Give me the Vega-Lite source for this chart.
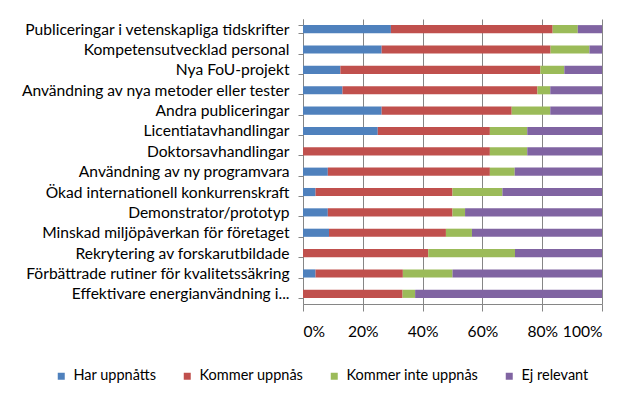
{
  "$schema": "https://vega.github.io/schema/vega-lite/v6.json",
  "width": 299,
  "height": 285,
  "autosize": "none",
  "padding": {"left": 303, "top": 19, "right": 38, "bottom": 99},
  "background": "white",
  "config": {
    "view": {"stroke": null},
    "font": "Lato",
    "axis": {"labelFont": "Lato", "labelFontSize": 15.6, "labelColor": "#000000", "domainColor": "#868686", "tickColor": "#868686"}
  },
  "datasets": {
    "serier": [
      {"serie": "Har uppnåtts", "nr": 1},
      {"serie": "Kommer uppnås", "nr": 2},
      {"serie": "Kommer inte uppnås", "nr": 3},
      {"serie": "Ej relevant", "nr": 4}
    ]
  },
  "data": {
    "values": [
      {"kategori": "Publiceringar i vetenskapliga tidskrifter", "serie": "Har uppnåtts", "andel": 29.4},
      {"kategori": "Publiceringar i vetenskapliga tidskrifter", "serie": "Kommer uppnås", "andel": 54.1},
      {"kategori": "Publiceringar i vetenskapliga tidskrifter", "serie": "Kommer inte uppnås", "andel": 8.4},
      {"kategori": "Publiceringar i vetenskapliga tidskrifter", "serie": "Ej relevant", "andel": 8.1},
      {"kategori": "Kompetensutvecklad personal", "serie": "Har uppnåtts", "andel": 26.3},
      {"kategori": "Kompetensutvecklad personal", "serie": "Kommer uppnås", "andel": 56.5},
      {"kategori": "Kompetensutvecklad personal", "serie": "Kommer inte uppnås", "andel": 13.0},
      {"kategori": "Kompetensutvecklad personal", "serie": "Ej relevant", "andel": 4.2},
      {"kategori": "Nya FoU-projekt", "serie": "Har uppnåtts", "andel": 12.5},
      {"kategori": "Nya FoU-projekt", "serie": "Kommer uppnås", "andel": 66.9},
      {"kategori": "Nya FoU-projekt", "serie": "Kommer inte uppnås", "andel": 8.0},
      {"kategori": "Nya FoU-projekt", "serie": "Ej relevant", "andel": 12.6},
      {"kategori": "Användning av nya metoder eller tester", "serie": "Har uppnåtts", "andel": 13.2},
      {"kategori": "Användning av nya metoder eller tester", "serie": "Kommer uppnås", "andel": 65.2},
      {"kategori": "Användning av nya metoder eller tester", "serie": "Kommer inte uppnås", "andel": 4.3},
      {"kategori": "Användning av nya metoder eller tester", "serie": "Ej relevant", "andel": 17.3},
      {"kategori": "Andra publiceringar", "serie": "Har uppnåtts", "andel": 26.3},
      {"kategori": "Andra publiceringar", "serie": "Kommer uppnås", "andel": 43.5},
      {"kategori": "Andra publiceringar", "serie": "Kommer inte uppnås", "andel": 12.9},
      {"kategori": "Andra publiceringar", "serie": "Ej relevant", "andel": 17.3},
      {"kategori": "Licentiatavhandlingar", "serie": "Har uppnåtts", "andel": 25.0},
      {"kategori": "Licentiatavhandlingar", "serie": "Kommer uppnås", "andel": 37.5},
      {"kategori": "Licentiatavhandlingar", "serie": "Kommer inte uppnås", "andel": 12.5},
      {"kategori": "Licentiatavhandlingar", "serie": "Ej relevant", "andel": 25.0},
      {"kategori": "Doktorsavhandlingar", "serie": "Har uppnåtts", "andel": 0},
      {"kategori": "Doktorsavhandlingar", "serie": "Kommer uppnås", "andel": 62.5},
      {"kategori": "Doktorsavhandlingar", "serie": "Kommer inte uppnås", "andel": 12.5},
      {"kategori": "Doktorsavhandlingar", "serie": "Ej relevant", "andel": 25.0},
      {"kategori": "Användning av ny programvara", "serie": "Har uppnåtts", "andel": 8.3},
      {"kategori": "Användning av ny programvara", "serie": "Kommer uppnås", "andel": 54.2},
      {"kategori": "Användning av ny programvara", "serie": "Kommer inte uppnås", "andel": 8.3},
      {"kategori": "Användning av ny programvara", "serie": "Ej relevant", "andel": 29.2},
      {"kategori": "Ökad internationell konkurrenskraft", "serie": "Har uppnåtts", "andel": 4.2},
      {"kategori": "Ökad internationell konkurrenskraft", "serie": "Kommer uppnås", "andel": 45.8},
      {"kategori": "Ökad internationell konkurrenskraft", "serie": "Kommer inte uppnås", "andel": 16.7},
      {"kategori": "Ökad internationell konkurrenskraft", "serie": "Ej relevant", "andel": 33.3},
      {"kategori": "Demonstrator/prototyp", "serie": "Har uppnåtts", "andel": 8.3},
      {"kategori": "Demonstrator/prototyp", "serie": "Kommer uppnås", "andel": 41.7},
      {"kategori": "Demonstrator/prototyp", "serie": "Kommer inte uppnås", "andel": 4.2},
      {"kategori": "Demonstrator/prototyp", "serie": "Ej relevant", "andel": 45.8},
      {"kategori": "Minskad miljöpåverkan för företaget", "serie": "Har uppnåtts", "andel": 8.7},
      {"kategori": "Minskad miljöpåverkan för företaget", "serie": "Kommer uppnås", "andel": 39.1},
      {"kategori": "Minskad miljöpåverkan för företaget", "serie": "Kommer inte uppnås", "andel": 8.7},
      {"kategori": "Minskad miljöpåverkan för företaget", "serie": "Ej relevant", "andel": 43.5},
      {"kategori": "Rekrytering av forskarutbildade", "serie": "Har uppnåtts", "andel": 0},
      {"kategori": "Rekrytering av forskarutbildade", "serie": "Kommer uppnås", "andel": 41.9},
      {"kategori": "Rekrytering av forskarutbildade", "serie": "Kommer inte uppnås", "andel": 29.0},
      {"kategori": "Rekrytering av forskarutbildade", "serie": "Ej relevant", "andel": 29.1},
      {"kategori": "Förbättrade rutiner för kvalitetssäkring", "serie": "Har uppnåtts", "andel": 4.2},
      {"kategori": "Förbättrade rutiner för kvalitetssäkring", "serie": "Kommer uppnås", "andel": 29.2},
      {"kategori": "Förbättrade rutiner för kvalitetssäkring", "serie": "Kommer inte uppnås", "andel": 16.6},
      {"kategori": "Förbättrade rutiner för kvalitetssäkring", "serie": "Ej relevant", "andel": 50.0},
      {"kategori": "Effektivare energianvändning i...", "serie": "Har uppnåtts", "andel": 0},
      {"kategori": "Effektivare energianvändning i...", "serie": "Kommer uppnås", "andel": 33.3},
      {"kategori": "Effektivare energianvändning i...", "serie": "Kommer inte uppnås", "andel": 4.2},
      {"kategori": "Effektivare energianvändning i...", "serie": "Ej relevant", "andel": 62.5}
    ]
  },
  "transform": [
    {"lookup": "serie", "from": {"data": {"name": "serier"}, "key": "serie", "fields": ["nr"]}}
  ],
  "mark": {"type": "bar"},
  "encoding": {
    "y": {
      "field": "kategori",
      "type": "nominal",
      "sort": null,
      "scale": {"paddingInner": 0.6, "paddingOuter": 0.3},
      "axis": {"title": null, "labelLimit": 400, "tickSize": 5, "labelPadding": 9, "tickBand": "extent", "domainColor": "#868686"}
    },
    "x": {
      "field": "andel",
      "type": "quantitative",
      "stack": "normalize",
      "scale": {"domain": [0, 1]},
      "axis": {"title": null, "format": "%", "values": [0, 0.2, 0.4, 0.6, 0.8, 1], "tickSize": 7, "labelPadding": 13, "grid": true, "gridColor": "#868686", "gridOpacity": 1}
    },
    "order": {"field": "nr", "type": "quantitative", "sort": "ascending"},
    "color": {
      "field": "serie",
      "type": "nominal",
      "scale": {
        "domain": ["Har uppnåtts", "Kommer uppnås", "Kommer inte uppnås", "Ej relevant"],
        "range": ["#4F81BD", "#C0504D", "#9BBB59", "#8064A2"]
      },
      "legend": {
        "title": null,
        "orient": "none",
        "direction": "horizontal",
        "legendX": -249,
        "legendY": 350,
        "gridAlign": "none",
        "labelFont": "Lato",
        "labelFontSize": 14.5,
        "labelColor": "#000000",
        "labelLimit": 300,
        "symbolType": "square",
        "symbolSize": 49,
        "symbolStrokeWidth": 0,
        "columnPadding": 23,
        "labelOffset": 5
      }
    }
  }
}
